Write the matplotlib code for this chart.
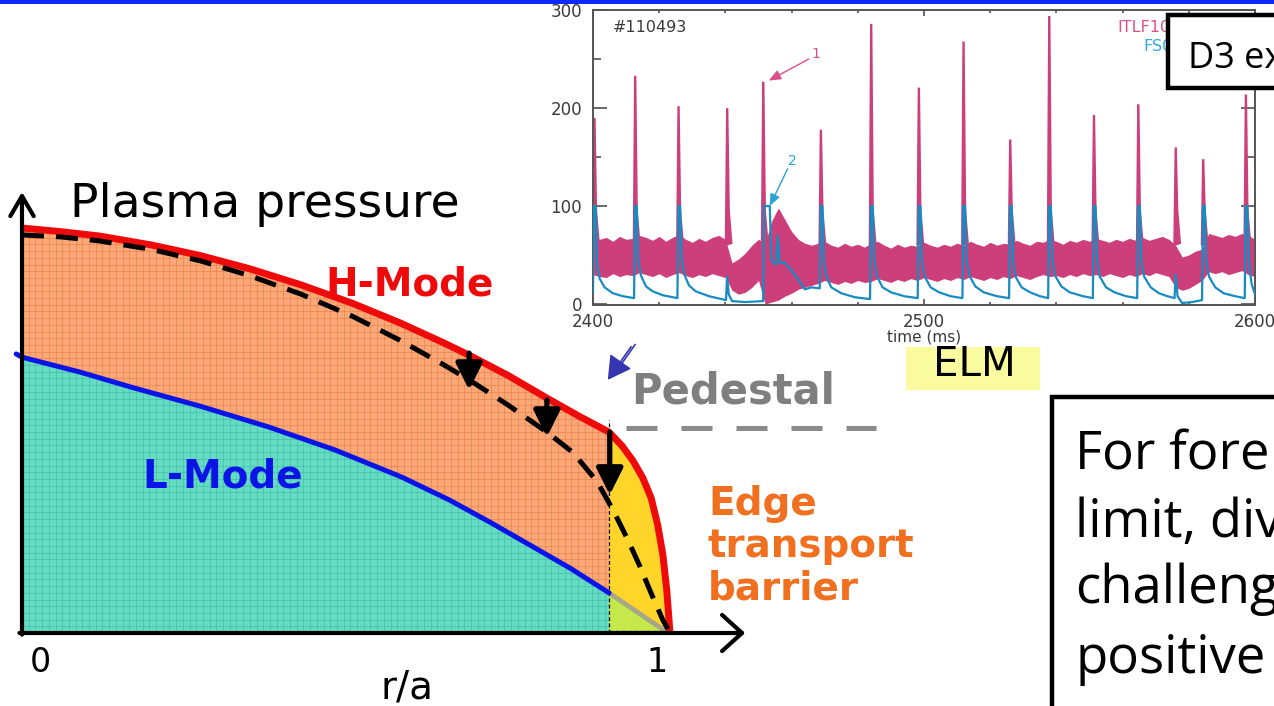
import numpy as np
import matplotlib
matplotlib.use("Agg")
import matplotlib.pyplot as plt
from matplotlib.patches import Rectangle, Polygon
from matplotlib.collections import LineCollection
from matplotlib.ticker import MultipleLocator

# ---------------------------------------------------------------- data
# Pressure profiles versus normalised radius r/a (pressure normalised to H-mode core)
hmode_r = [0.000, 0.060, 0.120, 0.200, 0.275, 0.350, 0.430, 0.510, 0.583, 0.650, 0.690,
           0.750, 0.810, 0.860, 0.906, 0.926, 0.943, 0.958, 0.971, 0.981, 0.989,
           0.995, 1.000]
hmode_p = [1.000, 0.991, 0.980, 0.958, 0.932, 0.900, 0.860, 0.814, 0.766, 0.717, 0.686,
           0.636, 0.580, 0.535, 0.496, 0.462, 0.425, 0.383, 0.333, 0.267, 0.193,
           0.106, 0.000]

crash_r = [0.000, 0.060, 0.120, 0.200, 0.275, 0.350, 0.430, 0.510, 0.583, 0.650, 0.690,
           0.750, 0.810, 0.850, 0.887, 0.912, 0.935, 0.954, 0.972, 0.989, 1.000]
crash_p = [0.983, 0.978, 0.968, 0.947, 0.919, 0.883, 0.837, 0.782, 0.723, 0.663, 0.625,
           0.563, 0.496, 0.446, 0.375, 0.304, 0.230, 0.163, 0.094, 0.032, 0.000]

lmode_r = [-0.009, 0.000, 0.090, 0.173, 0.275, 0.380, 0.483, 0.586, 0.660, 0.724, 0.784,
           0.846, 0.906]
lmode_p = [0.689, 0.681, 0.644, 0.605, 0.560, 0.509, 0.452, 0.385, 0.328, 0.272, 0.217,
           0.160, 0.099]

r_ped = 0.906

# Shot #110493: ITLF10B0 band (lower / upper envelope, every 2 ms) and ELM spikes
env_t = list(range(2400, 2601, 2))
itlf_lo = [30, 28, 27, 31, 28, 30, 29, 32, 30, 28, 31, 27, 30, 32, 29, 27, 30, 28, 31, 29,
           27, 14, 10, 12, 17, 24, 0, 2, 4, 8, 11, 15, 17, 19, 21, 24, 22, 20, 23, 21,
           24, 22, 23, 26, 24, 22, 25, 23, 26, 24, 27, 25, 23, 26, 24, 27, 25, 28, 26, 24,
           27, 25, 28, 26, 29, 27, 25, 28, 30, 28, 29, 27, 30, 28, 31, 29, 30, 28, 31, 29,
           27, 30, 28, 31, 29, 32, 30, 28, 17, 14, 16, 20, 24, 33, 31, 33, 30, 32, 34, 30,
           28]
itlf_hi = [70, 66, 68, 64, 69, 66, 67, 70, 68, 65, 69, 64, 68, 71, 66, 63, 67, 64, 68, 70,
           66, 42, 46, 52, 60, 66, 62, 85, 98, 86, 74, 66, 62, 60, 62, 64, 60, 58, 62, 59,
           61, 58, 62, 64, 60, 57, 61, 58, 60, 59, 63, 60, 58, 61, 59, 62, 60, 64, 61, 59,
           63, 60, 62, 61, 65, 62, 60, 64, 63, 66, 64, 61, 65, 63, 66, 64, 67, 65, 63, 66,
           64, 67, 65, 68, 65, 67, 69, 66, 60, 48, 50, 54, 56, 72, 70, 68, 71, 69, 72, 70,
           66]

elm_t = [2400.4, 2412.7, 2425.8, 2440.5, 2451.4, 2468.8, 2484.0, 2498.4, 2511.9, 2526.0,
         2537.8, 2551.3, 2564.7, 2576.0, 2584.3, 2597.2]
itlf_peak = [189, 232, 201, 199, 226, 177, 285, 220, 267, 167, 293, 192, 203, 159, 147, 213]

# FS01F trace (time ms, signal), saturating at 100
fs_trace = [
    (2400.0, 12), (2400.3, 100), (2400.8, 100), (2401.2, 42), (2402.0, 26), (2403.5, 17), (2406.0, 11), (2409.0, 8), (2412.4, 6),
    (2412.7, 100), (2413.2, 100), (2413.7, 44), (2414.5, 29), (2416.0, 18), (2418.0, 13), (2421.0, 9), (2425.5, 6),
    (2425.8, 100), (2426.3, 100), (2426.8, 46), (2427.6, 30), (2429.0, 19), (2431.0, 13), (2435.0, 8), (2440.2, 4),
    (2440.5, 28), (2441.0, 10), (2442.0, 3), (2446.0, 2), (2451.4, 3),
    (2451.7, 100), (2453.4, 100), (2453.9, 45), (2455.3, 40), (2455.8, 70), (2456.4, 42), (2458.0, 42), (2460.0, 34), (2462.0, 25), (2464.0, 15), (2466.0, 17), (2468.5, 16),
    (2468.8, 100), (2469.3, 100), (2469.8, 42), (2470.6, 27), (2472.0, 17), (2475.0, 11), (2479.0, 7), (2483.7, 5),
    (2484.0, 100), (2484.5, 100), (2485.0, 45), (2485.8, 28), (2487.5, 17), (2490.0, 12), (2494.0, 8), (2498.1, 6),
    (2498.4, 100), (2498.9, 100), (2499.4, 43), (2500.2, 28), (2502.0, 17), (2504.5, 12), (2508.0, 8), (2511.6, 6),
    (2511.9, 100), (2512.4, 100), (2512.9, 44), (2513.7, 29), (2515.5, 18), (2518.0, 12), (2522.0, 8), (2525.7, 6),
    (2526.0, 100), (2526.5, 100), (2527.0, 42), (2527.8, 27), (2529.5, 17), (2532.0, 12), (2535.0, 8), (2537.5, 6),
    (2537.8, 100), (2538.3, 100), (2538.8, 45), (2539.6, 29), (2541.5, 18), (2544.0, 12), (2548.0, 8), (2551.0, 6),
    (2551.3, 100), (2551.8, 100), (2552.3, 44), (2553.1, 28), (2555.0, 17), (2557.5, 12), (2561.0, 8), (2564.4, 6),
    (2564.7, 100), (2565.2, 100), (2565.7, 43), (2566.5, 28), (2568.5, 17), (2571.0, 11), (2573.5, 8), (2575.7, 6),
    (2576.0, 30), (2576.6, 8), (2578.0, 1), (2581.0, 2), (2584.0, 4),
    (2584.3, 100), (2584.8, 100), (2585.3, 44), (2586.1, 28), (2588.0, 17), (2590.5, 11), (2594.0, 8), (2596.9, 6),
    (2597.2, 100), (2597.7, 100), (2598.2, 40), (2599.0, 20), (2600.0, 10),
]

# ---------------------------------------------------------------- figure
W, H = 1274, 706
fig = plt.figure(figsize=(W / 100, H / 100), dpi=100)
fig.patch.set_facecolor("white")


def px_rect(x0, y0, x1, y1):
    """Pixel box (origin top-left) -> figure fraction rectangle."""
    return [x0 / W, 1 - y1 / H, (x1 - x0) / W, (y1 - y0) / H]


ORANGE = "#FAA878"
TEAL = "#64DCC3"
YELLOW = "#FFD52A"
RED = "#EE0A0A"
BLUE = "#0A14E6"

# ---------------------------------------------------------------- pressure-profile sketch
ax = fig.add_axes(px_rect(22, 228, 670, 633))
ax.set_xlim(0, 1)
ax.set_ylim(0, 1)
ax.axis("off")

h_poly = list(zip(hmode_r, hmode_p)) + [(1.0, 0.0), (0.0, 0.0)]
orange_patch = Polygon(h_poly, closed=True, facecolor=ORANGE, edgecolor="none", zorder=1)
ax.add_patch(orange_patch)

l_poly = list(zip(lmode_r[1:], lmode_p[1:])) + [(r_ped, 0.0), (0.0, 0.0)]
teal_patch = Polygon(l_poly, closed=True, facecolor=TEAL, edgecolor="none", zorder=2)
ax.add_patch(teal_patch)

# fine graph-paper grid inside the filled regions
gx = np.arange(0.0, 1.0, 0.01034)
gy = np.arange(0.0, 1.0, 0.01654)
segs = [[(x, 0), (x, 1)] for x in gx] + [[(0, y), (1, y)] for y in gy]
grid_o = LineCollection(segs, colors="#E8783E", linewidths=0.7, alpha=0.55, zorder=1.5)
grid_o.set_clip_path(orange_patch)
ax.add_collection(grid_o)
grid_t = LineCollection(segs, colors="#3FB79C", linewidths=0.7, alpha=0.55, zorder=2.5)
grid_t.set_clip_path(teal_patch)
ax.add_collection(grid_t)

# pedestal (edge transport barrier) region
ped_r = [r for r in hmode_r if r >= r_ped]
ped_p = [p for r, p in zip(hmode_r, hmode_p) if r >= r_ped]
ax.add_patch(Polygon([(r_ped, 0.0)] + list(zip(ped_r, ped_p)), closed=True,
                     facecolor=YELLOW, edgecolor="none", zorder=3))
band_in_r = [0.910, 0.931, 0.954, 0.969, 0.978, 0.986, 0.992, 0.997]
band_in_p = [0.484, 0.447, 0.402, 0.365, 0.291, 0.180, 0.081, 0.000]
ax.add_patch(Polygon(list(zip(ped_r, ped_p)) + list(zip(band_in_r, band_in_p))[::-1],
                     closed=True, facecolor="#F5A020", edgecolor="none", alpha=0.85, zorder=3.1))
ax.add_patch(Polygon([(r_ped, lmode_p[-1]), (r_ped, 0.0), (0.997, 0.0)], closed=True,
                     facecolor="#C5E84A", edgecolor="none", zorder=3.2))
ax.plot([r_ped, 0.997], [lmode_p[-1], 0.0], color="#9A9A9A", lw=3.5, alpha=0.8,
        solid_capstyle="butt", zorder=3.3)
ax.plot([r_ped, r_ped], [0.0, 0.526], color="k", lw=0.9, ls=(0, (3, 2)), zorder=3.4)
ax.plot([r_ped, 0.995], [0.006, 0.006], color="k", lw=0.9, ls=(0, (3, 2)), zorder=3.4)

# profiles
ax.plot(lmode_r, lmode_p, color=BLUE, lw=3.6, solid_capstyle="round", zorder=5, clip_on=False)
ax.plot(hmode_r, hmode_p, color=RED, lw=5.0, solid_capstyle="butt", zorder=5, clip_on=False)
ax.plot(crash_r, crash_p, color="k", lw=3.6, ls=(0, (4.4, 2.4)), dash_capstyle="butt",
        zorder=6, clip_on=False)

# profile collapse arrows
for r0, p0, p1 in [(0.690, 0.691, 0.600), (0.810, 0.575, 0.484), (0.907, 0.496, 0.341)]:
    ax.annotate("", xy=(r0, p1), xytext=(r0, p0), annotation_clip=False,
                arrowprops=dict(arrowstyle="-|>,head_length=0.8,head_width=0.4",
                                mutation_scale=20, lw=3.8, color="k",
                                shrinkA=0, shrinkB=0), zorder=7)

# small double arrow pointing to the pedestal top
ax.annotate("", xy=(0.904, 0.625), xytext=(0.940, 0.707), annotation_clip=False,
            arrowprops=dict(arrowstyle="-|>,head_length=0.8,head_width=0.45",
                            mutation_scale=18, lw=1.2, color="#3535B0",
                            shrinkA=0, shrinkB=0), zorder=7)
ax.plot([0.918, 0.946], [0.648, 0.712], color="#3535B0", lw=1.2, zorder=7, clip_on=False)

# coordinate axes with open arrow heads
ax.annotate("", xy=(0.0, 1.089), xytext=(0.0, -0.004), annotation_clip=False,
            arrowprops=dict(arrowstyle="->,head_length=0.72,head_width=0.42",
                            mutation_scale=20, lw=3.0, color="k", shrinkA=0, shrinkB=0),
            zorder=8)
ax.annotate("", xy=(1.116, 0.0), xytext=(-0.004, 0.0), annotation_clip=False,
            arrowprops=dict(arrowstyle="->,head_length=0.72,head_width=0.65",
                            mutation_scale=20, lw=3.0, color="k", shrinkA=0, shrinkB=0),
            zorder=8)

# ---------------------------------------------------------------- ELM time trace
ins = fig.add_axes(px_rect(593, 10, 1255, 305))
ins.set_facecolor("white")
ins.set_xlim(2400, 2600)
ins.set_ylim(-1, 300)

PINK = "#CC3F7A"
ins.fill_between(env_t, itlf_lo, itlf_hi, color=PINK, lw=0, zorder=2)
for t, pk in zip(elm_t, itlf_peak):
    ins.fill([t - 0.45, t - 0.05, t + 0.15, t + 0.6, t + 1.4],
             [60, pk, pk, 95, 62], color=PINK, lw=1.2, zorder=2.5)

fs_t = [t for t, _ in fs_trace]
fs_v = [v for _, v in fs_trace]
ins.plot(fs_t, fs_v, color="#168CC2", lw=1.6, zorder=3)

ins.xaxis.set_major_locator(MultipleLocator(100))
ins.xaxis.set_minor_locator(MultipleLocator(20))
ins.yaxis.set_major_locator(MultipleLocator(100))
ins.yaxis.set_minor_locator(MultipleLocator(50))
ins.tick_params(axis="both", which="both", direction="in", top=True, right=True,
                colors="#505050", labelcolor="#3A3A3A", labelsize=12, width=1.2)
ins.tick_params(axis="x", which="major", length=4, pad=6)
ins.tick_params(axis="x", which="minor", length=2)
ins.tick_params(axis="y", which="major", length=10, pad=8)
ins.tick_params(axis="y", which="minor", length=6)
for s in ins.spines.values():
    s.set_color("#555555")
    s.set_linewidth(1.4)
ins.set_xlabel("time (ms)", fontsize=11, color="#3A3A3A", labelpad=-1)

ins.text(2406, 282, "#110493", fontsize=11.5, color="#3A3A3A", va="center")
ins.text(2581, 282, "ITLF10B0", fontsize=11.5, color="#D9508A", va="center", ha="right")
ins.text(2581, 263, "FS01F", fontsize=11.5, color="#33AADD", va="center", ha="right")

ins.annotate("", xy=(2453.1, 228), xytext=(2465.2, 250),
             arrowprops=dict(arrowstyle="-|>,head_length=0.6,head_width=0.25",
                             mutation_scale=12, lw=1.0, color="#D9508A",
                             shrinkA=0, shrinkB=0))
ins.text(2467.3, 255, "1", fontsize=10, color="#D9508A", va="center", ha="center")
ins.annotate("", xy=(2453.4, 100), xytext=(2458.8, 138),
             arrowprops=dict(arrowstyle="-|>,head_length=0.6,head_width=0.25",
                             mutation_scale=12, lw=1.0, color="#2AA6D6",
                             shrinkA=0, shrinkB=0))
ins.text(2460.2, 146, "2", fontsize=10, color="#2AA6D6", va="center", ha="center")

# ---------------------------------------------------------------- slide overlay (pixel units)
ov = fig.add_axes([0, 0, 1, 1], zorder=10)
ov.set_xlim(0, W)
ov.set_ylim(H, 0)
ov.axis("off")
ov.patch.set_visible(False)

ov.add_patch(Rectangle((0, 0), W, 3.5, facecolor="#0A2AF5", edgecolor="none"))

DV = "DejaVu Sans"
ov.text(70, 217, "Plasma pressure", fontsize=34, family=DV, color="k", va="baseline")
ov.text(410, 296, "H-Mode", fontsize=28, family=DV, weight="bold", color=RED,
        ha="center", va="baseline")
ov.text(142, 488, "L-Mode", fontsize=28, family=DV, weight="bold", color=BLUE,
        va="baseline")
ov.text(631, 403, "Pedestal", fontsize=30, family=DV, weight="bold", color="#7F7F7F",
        va="baseline")
ov.plot([626, 876], [428, 428], color="#8A8A8A", lw=3.6, ls=(0, (6.2, 4.8)),
        dash_capstyle="butt")
for y, s in [(515, "Edge"), (557, "transport"), (600, "barrier")]:
    ov.text(708, y, s, fontsize=28, family=DV, weight="bold", color="#F07020",
            va="baseline")
ov.text(40, 672, "0", fontsize=24, family=DV, ha="center", va="baseline")
ov.text(657, 672, "1", fontsize=24, family=DV, ha="center", va="baseline")
ov.text(407, 699, "r/a", fontsize=28, family=DV, ha="center", va="baseline")

# ELM label
ov.add_patch(Rectangle((906, 347), 134, 43, facecolor="#FAFA9E", edgecolor="none"))
ov.text(974, 376, "ELM", fontsize=29, family=DV, ha="center", va="baseline")

# boxed captions
ov.add_patch(Rectangle((1168, 15), 200, 73, facecolor="white", edgecolor="k", lw=3.2))
ov.text(1188, 68, "D3 ex", fontsize=26, family="Open Sans", va="baseline")

ov.add_patch(Rectangle((1052, 397), 300, 400, facecolor="white", edgecolor="k", lw=3.2))
for y, s in [(470, "For fore"), (537, "limit, div"), (603, "challeng"), (673, "positive")]:
    ov.text(1075, y, s, fontsize=38, family="Open Sans", va="baseline")

fig.savefig("out.png", dpi=100)
